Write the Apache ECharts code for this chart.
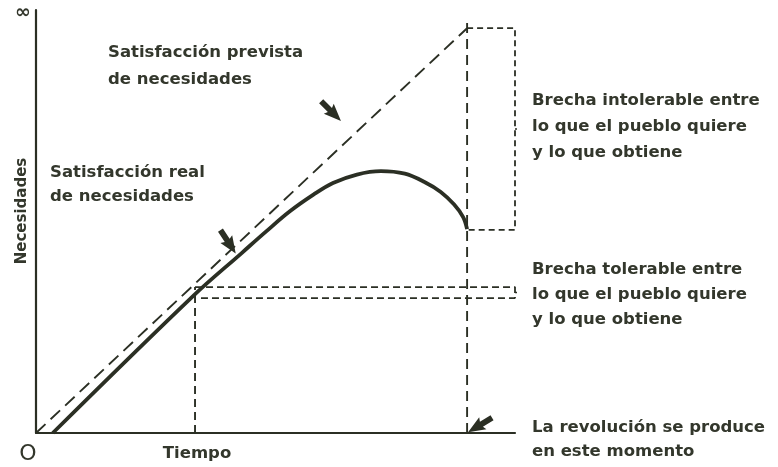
<!DOCTYPE html>
<html>
<head>
<meta charset="utf-8">
<script src="https://cdn.jsdelivr.net/npm/echarts@6/dist/echarts.min.js"></script>
<style>html,body{margin:0;padding:0;background:#fff}#c{width:778px;height:467px}</style>
</head>
<body>
<div id="c"></div>
<script>
// Data (axis units: time 0..100, needs 0..100)
const expectedLine = [[0, 0], [90, 95.7]];
const actualLine = [[3.5, 0], [33, 32.6], [43, 42.6], [48, 47.6], [53, 52.4], [58, 56.4], [62, 59.1], [67, 61.1], [72, 61.9], [77, 61.3], [81, 59.4], [84.5, 57], [87.3, 54], [89.2, 51], [90, 48.2]];
const revolutionTime = 90;
const revolutionTop = 98.1;
const tolerableTime = 33.2;
const tolerableGap = [34.5, 31.9];
const intolerableGap = [95.7, 48.0];
const bracketX = 100;
const bracketTickEnd = 101.3;
const arrowPoints = [[40.1, 45.2], [61.6, 76.1], [92.7, 1.9]];
const arrowAngles = [-147, -135, 121];
const labelsExpected = ['Satisfacción prevista', 'de necesidades'];
const labelsActual = ['Satisfacción real', 'de necesidades'];
const labelsIntolerable = ['Brecha intolerable entre', 'lo que el pueblo quiere', 'y lo que obtiene'];
const labelsTolerable = ['Brecha tolerable entre', 'lo que el pueblo quiere', 'y lo que obtiene'];
const labelsRevolution = ['La revolución se produce', 'en este momento'];
const axisNames = { x: 'Tiempo', y: 'Necesidades', origin: 'O', top: '∞' };

const ink = '#2b2f24';
const textInk = '#33372c';
const FONT = 'bold 16.5px "DejaVu Sans"';

function lineSeries(data, type, width, extra) {
  return Object.assign({
    type: 'line', data: data, showSymbol: false, symbol: 'none', clip: false, silent: true,
    lineStyle: { color: ink, width: width, type: type }
  }, extra || {});
}

const arrowPath = 'path://M6,0 L12,16 L8.5,14.5 L8.5,26 L3.5,26 L3.5,14.5 L0,16 Z';

const series = [
  lineSeries(expectedLine, [13, 7], 1.9),
  lineSeries(actualLine, 'solid', 3.8, { smooth: 0.35 }),
  lineSeries([[revolutionTime, 0], [revolutionTime, revolutionTop]], [10, 6], 1.9),
  lineSeries([[tolerableTime, 0], [tolerableTime, tolerableGap[0]]], [8, 5], 1.9),
  lineSeries([[tolerableTime, tolerableGap[0]], [bracketX, tolerableGap[0]], [bracketX, tolerableGap[1]], [tolerableTime + 1, tolerableGap[1]]], [7, 4], 1.8),
  lineSeries([[bracketX, (tolerableGap[0] + tolerableGap[1]) / 2], [bracketTickEnd, (tolerableGap[0] + tolerableGap[1]) / 2]], 'solid', 1.6),
  lineSeries([[revolutionTime, intolerableGap[0]], [bracketX, intolerableGap[0]], [bracketX, intolerableGap[1]], [revolutionTime, intolerableGap[1]]], [6, 4], 1.8),
  lineSeries([[bracketX, (intolerableGap[0] + intolerableGap[1]) / 2], [bracketTickEnd, (intolerableGap[0] + intolerableGap[1]) / 2]], 'solid', 1.6),
  {
    type: 'scatter', silent: true, clip: false,
    data: arrowPoints.map((p, i) => ({ value: p, symbolRotate: arrowAngles[i] })),
    symbol: arrowPath, symbolSize: [14, 28], symbolKeepAspect: false,
    itemStyle: { color: ink, opacity: 1 }
  }
];

function textLines(lines, x, y0, step) {
  return lines.map((t, i) => ({
    type: 'text', x: x, y: y0 + i * step, silent: true,
    style: { text: t, font: FONT, fill: textInk, align: 'left', verticalAlign: 'middle' }
  }));
}

const graphics = [].concat(
  textLines(labelsExpected, 108, 53, 27),
  textLines(labelsActual, 50, 173, 24),
  textLines(labelsIntolerable, 532, 101, 26),
  textLines(labelsTolerable, 532, 270, 25),
  textLines(labelsRevolution, 532, 428, 24),
  [
    { type: 'text', x: 197, y: 454, silent: true, style: { text: axisNames.x, font: FONT, fill: textInk, align: 'center', verticalAlign: 'middle' } },
    { type: 'text', x: 22, y: 211, rotation: Math.PI / 2, silent: true, style: { text: axisNames.y, font: 'bold 15px "DejaVu Sans"', fill: textInk, align: 'center', verticalAlign: 'middle' } },
    { type: 'text', x: 28, y: 454, silent: true, style: { text: axisNames.origin, font: '22px "DejaVu Sans"', fill: textInk, align: 'center', verticalAlign: 'middle' } },
    { type: 'text', x: 23, y: 13, silent: true, style: { text: axisNames.top, font: 'bold 19px "DejaVu Sans"', fill: textInk, align: 'center', verticalAlign: 'middle' } }
  ]
);

const chart = echarts.init(document.getElementById('c'), null, { renderer: 'canvas' });
chart.setOption({
  animation: false,
  backgroundColor: '#ffffff',
  grid: { left: 36, right: 263, top: 10, bottom: 34, containLabel: false },
  xAxis: {
    type: 'value', min: 0, max: 100,
    axisLine: { show: true, lineStyle: { color: ink, width: 2.2 } },
    axisTick: { show: false }, axisLabel: { show: false }, splitLine: { show: false }
  },
  yAxis: {
    type: 'value', min: 0, max: 100,
    axisLine: { show: true, lineStyle: { color: ink, width: 2.2 } },
    axisTick: { show: false }, axisLabel: { show: false }, splitLine: { show: false }
  },
  series: series,
  graphic: graphics
});
</script>
</body>
</html>
